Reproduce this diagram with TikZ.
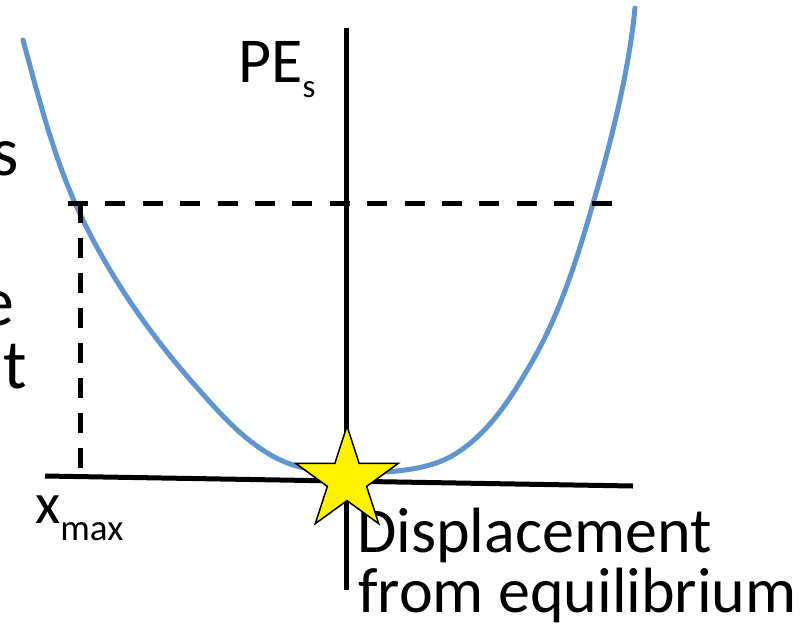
\documentclass[tikz,border=0pt]{standalone}
\usepackage{fontspec}
\setmainfont{Carlito}
\usetikzlibrary{shapes.geometric}
\definecolor{curveblue}{RGB}{96,150,205}
\begin{document}
\begin{tikzpicture}[x=1pt,y=-1pt,
  axis/.style={line width=5pt},
  dashline/.style={line width=5pt, dash pattern=on 20pt off 17.4pt},
  curve/.style={curveblue, line width=5pt, line cap=round},
  lbl/.style={inner sep=0pt, anchor=base west, font=\fontsize{64}{64}\selectfont},
  edgelbl/.style={inner sep=0pt, anchor=base east, font=\fontsize{70}{70}\selectfont},
  starshape/.style={star, star points=5, star point ratio=2.618, minimum size=108pt,
    inner sep=0pt, draw=black, fill=yellow, line width=1.5pt}
]
\useasboundingbox (0,0) rectangle (800,630);
% clipped text on the left edge
\node[edgelbl] (ls) at (19,175) {s};
\node[edgelbl] (le) at (15,325) {e};
\node[edgelbl] (lt) at (27,388) {t};
% curve
\draw[curve] (23,40)
  .. controls (38,95) and (52,151) .. (75,203)
  .. controls (104.5,268.6) and (145.4,329) .. (193,383)
  .. controls (222.8,416.8) and (256.4,456.1) .. (300,467)
  .. controls (314.6,470.6) and (330,473) .. (345,473)
  .. controls (380.4,473) and (422,472) .. (450,457)
  .. controls (487.3,436.5) and (511.9,397) .. (533,360)
  .. controls (561.3,310.5) and (578.3,254.8) .. (594,200)
  .. controls (616,125) and (630,60) .. (635,8);
% axes
\coordinate (vtop) at (346,28);
\coordinate (vbot) at (346,590);
\coordinate (hleft) at (45,476);
\coordinate (hright) at (633,486);
\draw[axis] (vtop) -- (vbot);
\draw[axis] (hleft) -- (hright);
% dashed guides
\coordinate (dl) at (68,203);
\coordinate (dr) at (612,203);
\coordinate (dc) at (80,203);
\coordinate (db) at (80,476);
\draw[dashline] (dl) -- (dr);
\draw[dashline, dash pattern=on 20pt off 15pt] (dc) -- (db);
% labels
\node[lbl] (pe) at (238,82) {PE\raisebox{-15pt}{\fontsize{33}{33}\selectfont s}};
\node[lbl, font=\fontsize{58}{58}\selectfont] (xmax) at (35,523) {x\raisebox{-17pt}{\fontsize{37}{37}\selectfont max}};
\node[lbl] (disp1) at (357,552) {Displacement};
\node[lbl] (disp2) at (358,612) {from equilibrium};
% star
\node[starshape] (star) at (347,480) {};
\end{tikzpicture}
\end{document}
